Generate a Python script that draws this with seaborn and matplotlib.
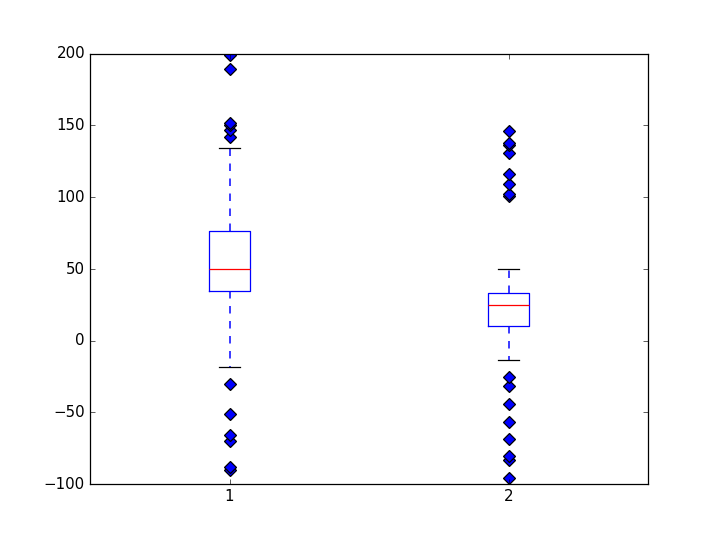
import matplotlib
matplotlib.use("Agg")
import matplotlib.pyplot as plt
import pandas as pd
import seaborn as sns

# sample values for each group (sorted)
group_labels = ["1", "2"]
values_1 = [-90, -88, -70, -66, -51, -30.5,
            -18.4, 2, 18, 28,
            34.7,
            37, 39, 41, 43, 44, 45, 46, 48, 49,
            50,
            52, 55, 58, 60, 63, 66, 69, 72, 74,
            76.5,
            88, 102, 118,
            134.4,
            142, 147, 150, 152, 189, 199]
values_2 = [-96, -83.3, -80.5, -68.6, -56.5, -44.4, -31.4, -25.5,
            -13.5, 2,
            10.2,
            12, 14, 15, 17, 18, 20, 21, 22, 24,
            24.9,
            26, 27, 28, 29, 30, 30.5, 31, 32, 32.5,
            33,
            42,
            49.8,
            101, 102, 109, 116, 131, 136, 138, 146]

df = pd.DataFrame({
    "group": [group_labels[0]] * len(values_1) + [group_labels[1]] * len(values_2),
    "value": values_1 + values_2,
})

plt.style.use("classic")
fig, ax = plt.subplots(figsize=(8, 5.98), dpi=90)
fig.patch.set_facecolor("white")

sns.boxplot(
    data=df, x="group", y="value", ax=ax,
    width=0.15, fill=False, linewidth=1, whis=1.5,
    boxprops={"color": "blue"},
    whiskerprops={"color": "blue", "linestyle": (0, (6, 6)), "linewidth": 1.2},
    capprops={"color": "black"},
    medianprops={"color": "red"},
    flierprops={"marker": "D", "markerfacecolor": "blue",
                "markeredgecolor": "black", "markersize": 7},
)

ax.set_ylim(-100, 200)
ax.set_xlim(-0.5, 1.5)
ax.set_xlabel("")
ax.set_ylabel("")

fig.savefig("out.png", dpi=90, facecolor="white")
